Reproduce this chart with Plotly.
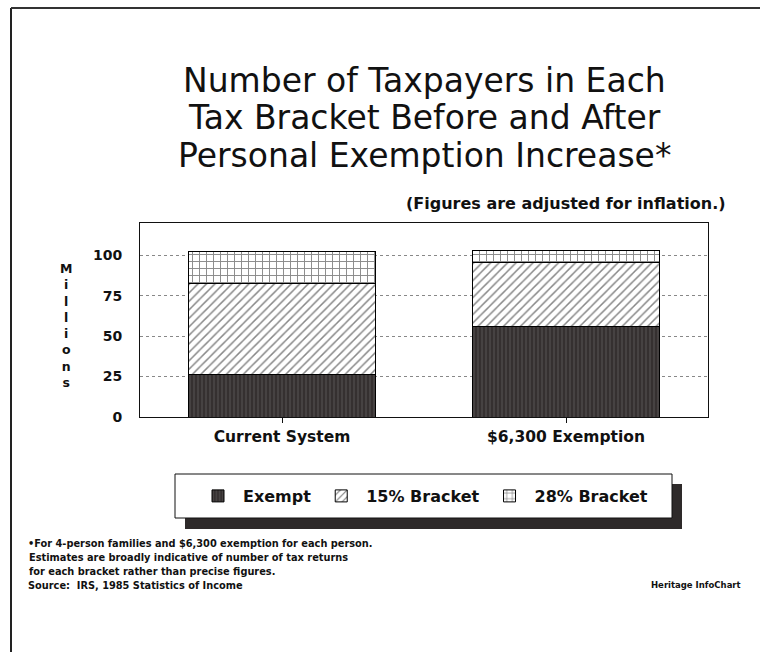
import plotly.graph_objects as go

categories = ["Current System", "$6,300 Exemption"]
exempt = [26, 55.7]
bracket15 = [56.5, 39.6]
bracket28 = [20, 7.7]
series_names = ["Exempt", "15% Bracket", "28% Bracket"]
y_ticks = [0, 25, 50, 75, 100]
title_lines = ["Number of Taxpayers in Each", "Tax Bracket Before and After",
               "Personal Exemption Increase*"]

W, H = 760, 652
L, R, T, B = 140, 52, 223, 235
PW, PH = W - L - R, H - T - B

def px(x):
    return (x - L) / PW

def py(y):
    return (H - B - y) / PH

FONT = "DejaVu Sans, Liberation Sans, sans-serif"

fig = go.Figure()
fig.add_trace(go.Bar(
    x=categories, y=exempt, name=series_names[0],
    marker=dict(color="#3a3535", line=dict(color="#000", width=1),
                pattern=dict(shape="|", fgcolor="#8a8a8a", bgcolor="#353030",
                             size=4, solidity=0.2)),
))
fig.add_trace(go.Bar(
    x=categories, y=bracket15, name=series_names[1],
    marker=dict(color="white", line=dict(color="#000", width=1),
                pattern=dict(shape="/", fgcolor="#111", bgcolor="white",
                             size=6, solidity=0.25)),
))
fig.add_trace(go.Bar(
    x=categories, y=bracket28, name=series_names[2],
    marker=dict(color="white", line=dict(color="#000", width=1),
                pattern=dict(shape="+", fgcolor="#111", bgcolor="white",
                             size=7, solidity=0.25)),
))

shapes = [
    dict(type="line", xref="paper", yref="paper", x0=px(11), x1=px(11), y0=py(8), y1=py(652),
         line=dict(color="#222", width=2)),
    dict(type="line", xref="paper", yref="paper", x0=px(11), x1=px(760), y0=py(8), y1=py(8),
         line=dict(color="#333", width=2)),
    dict(type="rect", xref="paper", yref="paper", x0=px(185), x1=px(682), y0=py(484), y1=py(529),
         fillcolor="#2e2a2a", line=dict(width=0)),
    dict(type="rect", xref="paper", yref="paper", x0=px(175), x1=px(672), y0=py(474), y1=py(518),
         fillcolor="white", line=dict(color="#111", width=1)),
]

annotations = []
for i, line in enumerate(title_lines):
    annotations.append(dict(text=line, x=px(424), y=py(80 + 37.5 * i), xref="paper", yref="paper",
                            xanchor="center", yanchor="middle", showarrow=False,
                            font=dict(family=FONT, size=33, color="#111")))
annotations += [
    dict(text="(Figures are adjusted for inflation.)",
         x=px(728), y=py(204), xref="paper", yref="paper", xanchor="right", yanchor="middle",
         showarrow=False, font=dict(family=FONT, size=16, color="#111", weight="bold")),
    dict(text="M<br>i<br>l<br>l<br>i<br>o<br>n<br>s",
         x=px(66), y=py(325), xref="paper", yref="paper", xanchor="center", yanchor="middle",
         showarrow=False, font=dict(family=FONT, size=12.5, color="#111", weight="bold"), align="center"),
]
foot = [
    ("•For 4-person families and $6,300 exemption for each person.", 26, 543),
    ("Estimates are broadly indicative of number of tax returns", 27, 557),
    ("for each bracket rather than precise figures.", 27, 571),
    ("Source:  IRS, 1985 Statistics of Income", 26, 585),
]
for txt, x, y in foot:
    annotations.append(dict(text=txt, x=px(x), y=py(y), xref="paper", yref="paper",
                            xanchor="left", yanchor="middle", showarrow=False,
                            font=dict(family=FONT, size=9.8, color="#111", weight="bold")))
annotations.append(dict(text="Heritage InfoChart", x=px(743), y=py(585), xref="paper", yref="paper",
                        xanchor="right", yanchor="middle", showarrow=False,
                        font=dict(family=FONT, size=8.5, color="#111", weight="bold")))

fig.update_layout(
    width=W, height=H,
    margin=dict(l=L, r=R, t=T, b=B),
    paper_bgcolor="white", plot_bgcolor="white",
    barmode="stack", bargap=0.34,
    font=dict(family=FONT, color="#111"),
    showlegend=True,
    legend=dict(orientation="h", x=px(423), y=py(496), xanchor="center", yanchor="middle",
                bgcolor="rgba(0,0,0,0)", borderwidth=0,
                font=dict(family=FONT, size=16, color="#111", weight="bold"),
                itemwidth=40, traceorder="normal"),
    shapes=shapes,
    annotations=annotations,
    xaxis=dict(range=[-0.5, 1.5], showline=True, linecolor="#111", linewidth=1, mirror=True,
               ticks="outside", ticklen=5, tickcolor="#111",
               tickfont=dict(family=FONT, size=15.5, color="#111", weight="bold"),
               showgrid=False, fixedrange=True),
    yaxis=dict(range=[0, 120], tickvals=y_ticks, showline=True, linecolor="#111", linewidth=1,
               mirror=True, showgrid=True, gridcolor="#888", griddash="dot", gridwidth=1,
               zeroline=False, ticks="", ticklabelstandoff=14,
               tickfont=dict(family=FONT, size=14, color="#111", weight="bold")),
)

fig.write_html("out.html")
